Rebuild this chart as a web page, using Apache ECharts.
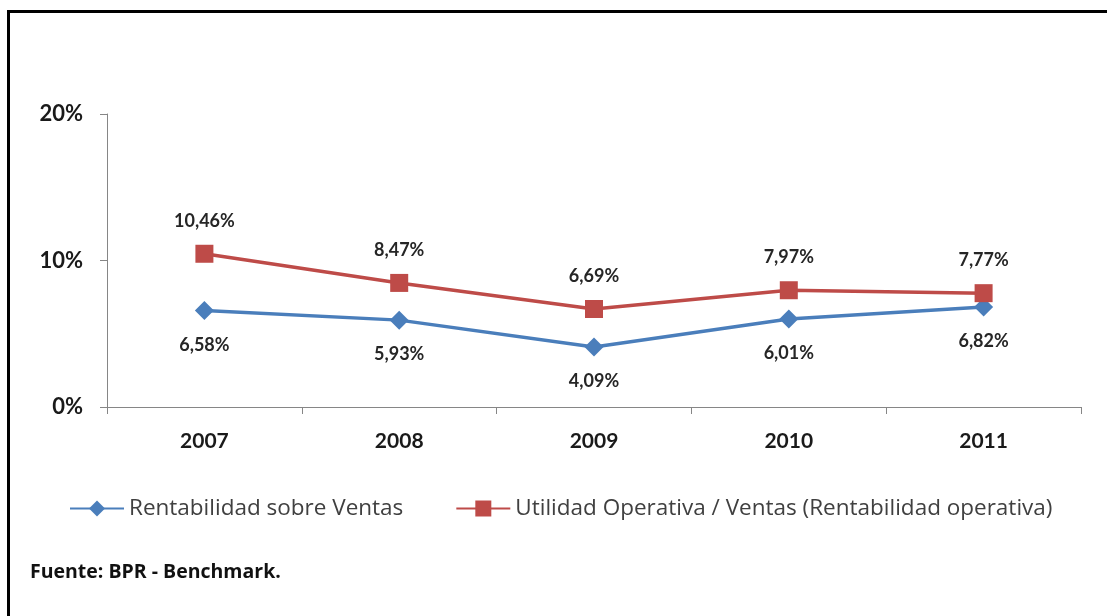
<!DOCTYPE html>
<html>
<head>
<meta charset="utf-8">
<script src="https://cdn.jsdelivr.net/npm/echarts@6/dist/echarts.min.js"></script>
<style>
  html, body { margin: 0; padding: 0; background: #fff; }
  #main { width: 1107px; height: 616px; }
</style>
</head>
<body>
<div id="main"></div>
<script>
// datos
var years = ['2007', '2008', '2009', '2010', '2011'];
var rentVentas = [6.58, 5.93, 4.09, 6.01, 6.82];
var utilOperativa = [10.46, 8.47, 6.69, 7.97, 7.77];
var yTicks = [0, 10, 20];

var myChart = echarts.init(document.getElementById('main'));

function pct(v) {
  return v.toFixed(2).replace('.', ',') + '%';
}

var font = 'Lato, "Open Sans", sans-serif';
var font2 = '"Open Sans", Lato, sans-serif';

var option = {
  animation: false,
  textStyle: { fontFamily: font },
  graphic: [
    // marco del grafico (solo borde superior e izquierdo visibles)
    { type: 'line', shape: { x1: 8.5, y1: 11.5, x2: 1107, y2: 11.5 }, style: { stroke: '#000', lineWidth: 3 } },
    { type: 'line', shape: { x1: 8.5, y1: 10, x2: 8.5, y2: 616 }, style: { stroke: '#000', lineWidth: 3 } },
    {
      type: 'text', left: 30, top: 562,
      style: { text: 'Fuente: BPR - Benchmark.', font: 'bold 19.5px ' + font2, fill: '#111' }
    }
  ],
  legend: {
    left: 69,
    top: 497,
    padding: 0,
    itemWidth: 54,
    itemHeight: 20,
    itemGap: 52,
    textStyle: { fontSize: 22.5, color: '#404040', fontFamily: font2 },
    data: ['Rentabilidad sobre Ventas', 'Utilidad Operativa / Ventas (Rentabilidad operativa)']
  },
  grid: { left: 107, right: 26, top: 114, bottom: 209 },
  xAxis: {
    type: 'category',
    data: years,
    boundaryGap: true,
    axisLine: { lineStyle: { color: '#868686', width: 1 } },
    axisTick: { show: true, length: 7, lineStyle: { color: '#868686' } },
    axisLabel: { margin: 24, fontSize: 21, fontWeight: 'bold', color: '#1a1a1a', fontFamily: font },
    splitLine: { show: false }
  },
  yAxis: {
    type: 'value',
    min: yTicks[0],
    max: yTicks[yTicks.length - 1],
    interval: yTicks[1] - yTicks[0],
    axisLine: { show: true, lineStyle: { color: '#868686', width: 1 } },
    axisTick: { show: true, length: 7, lineStyle: { color: '#868686' } },
    axisLabel: { margin: 24, fontSize: 22, fontWeight: 'bold', color: '#1a1a1a', fontFamily: font, formatter: '{value}%' },
    splitLine: { show: false }
  },
  series: [
    {
      name: 'Rentabilidad sobre Ventas',
      type: 'line',
      data: rentVentas,
      symbol: 'diamond',
      symbolSize: 19,
      itemStyle: { color: '#4A7EBB' },
      lineStyle: { color: '#4A7EBB', width: 3.5 },
      label: {
        show: true, position: 'bottom', distance: 16,
        fontSize: 18, fontWeight: 'bold', color: '#262626', fontFamily: font,
        formatter: function (p) { return pct(p.value); }
      }
    },
    {
      name: 'Utilidad Operativa / Ventas (Rentabilidad operativa)',
      type: 'line',
      data: utilOperativa,
      symbol: 'rect',
      symbolSize: 18,
      itemStyle: { color: '#BE4B48' },
      lineStyle: { color: '#BE4B48', width: 3.5 },
      label: {
        show: true, position: 'top', distance: 15,
        fontSize: 18, fontWeight: 'bold', color: '#262626', fontFamily: font,
        formatter: function (p) { return pct(p.value); }
      }
    }
  ]
};

myChart.setOption(option);
window.addEventListener('resize', () => { myChart.resize(); });
</script>
</body>
</html>
